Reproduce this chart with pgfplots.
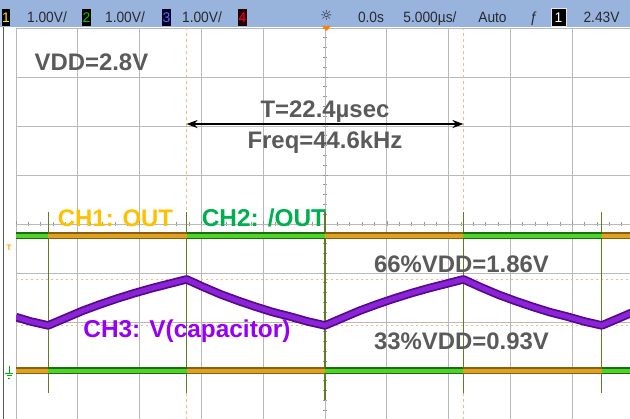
\documentclass[border=0pt]{standalone}
\usepackage{pgfplots}
\pgfplotsset{compat=1.18}
\usepackage{pgfplotstable}
\usepackage{fontspec}
\setmainfont{Liberation Sans}
\newfontfamily\dejavu{DejaVu Sans}
\usetikzlibrary{arrows.meta}
\definecolor{hdr}{RGB}{152,180,220}
\definecolor{hdrtxt}{RGB}{40,40,50}
\definecolor{txtgray}{RGB}{90,90,90}
\definecolor{ch1lab}{RGB}{255,192,0}
\definecolor{ch2lab}{RGB}{0,176,80}
\definecolor{ch3lab}{RGB}{150,0,245}
\definecolor{ordk}{RGB}{140,95,15}
\definecolor{orlt}{RGB}{222,162,35}
\definecolor{grdk}{RGB}{25,110,15}
\definecolor{grlt}{RGB}{80,210,40}
\definecolor{pudk}{RGB}{85,10,140}
\definecolor{pult}{RGB}{140,35,215}
\definecolor{edgec}{RGB}{95,125,35}
\definecolor{cursorc}{RGB}{242,185,130}
\definecolor{gridc}{RGB}{185,185,185}

% time in microseconds, vertical in divisions (1 V/div), screen centre = 0
\pgfplotstableread{
t v
-25 -2.99
-22.4 -2.99
-22.4 nan
-22.4 -0.24
-11.2 -0.24
-11.2 nan
-11.2 -2.99
0 -2.99
0 nan
0 -0.24
11.2 -0.24
11.2 nan
11.2 -2.99
22.4 -2.99
22.4 nan
22.4 -0.24
25 -0.24
}\chone
\pgfplotstableread{
t v
-25 -0.24
-22.4 -0.24
-22.4 nan
-22.4 -2.99
-11.2 -2.99
-11.2 nan
-11.2 -0.24
0 -0.24
0 nan
0 -2.99
11.2 -2.99
11.2 nan
11.2 -0.24
22.4 -0.24
22.4 nan
22.4 -2.99
25 -2.99
}\chtwo
\pgfplotstableread{
t v
-25 -1.90
-23.8 -1.99
-22.4 -2.07
-21.0 -1.92
-19.6 -1.77
-18.2 -1.64
-16.8 -1.52
-15.4 -1.41
-14.0 -1.31
-12.6 -1.22
-11.2 -1.13
-9.8 -1.29
-8.4 -1.44
-7.0 -1.57
-5.6 -1.69
-4.2 -1.80
-2.8 -1.89
-1.4 -1.99
0 -2.07
1.4 -1.92
2.8 -1.77
4.2 -1.64
5.6 -1.52
7.0 -1.41
8.4 -1.31
9.8 -1.22
11.2 -1.13
12.6 -1.29
14.0 -1.44
15.4 -1.57
16.8 -1.69
18.2 -1.80
19.6 -1.89
21.0 -1.99
22.4 -2.07
23.8 -1.92
25 -1.79
}\chthree
\pgfplotstableread{
t v
-22.4 0.25
-22.4 -3.45
-22.4 nan
-11.2 0.25
-11.2 -3.45
-11.2 nan
0 0.25
0 -3.6
0 nan
11.2 0.25
11.2 -3.45
11.2 nan
22.4 0.25
22.4 -3.45
}\edges

\begin{document}
\begin{tikzpicture}
\begin{axis}[
  at={(16bp,-1bp)}, anchor=south west,
  scale only axis, width=618bp, height=392bp,
  xmin=-25, xmax=25, ymin=-4, ymax=4,
  axis lines=middle,
  axis line style={-, draw=gridc, line width=0.8bp},
  xtick={-25,-20,...,25}, ytick={-4,-3,...,4},
  minor x tick num=4, minor y tick num=4,
  xticklabels={}, yticklabels={},
  tick align=center, major tick length=5bp, minor tick length=4bp,
  every tick/.style={draw=gridc!80!black, line width=0.6bp},
  grid=major, major grid style={draw=gridc, line width=0.9bp},
  unbounded coords=jump,
  clip=true,
]
% cursors
\addplot[draw=cursorc, line width=0.9bp, dash pattern=on 3bp off 3bp] coordinates {(-11.2,-4) (-11.2,4)};
\addplot[draw=cursorc, line width=0.9bp, dash pattern=on 3bp off 3bp] coordinates {(11.2,-4) (11.2,4)};
\addplot[draw=cursorc, line width=0.8bp, dash pattern=on 2bp off 3bp] coordinates {(-25,-1.13) (25,-1.13)};
\addplot[draw=cursorc, line width=0.8bp, dash pattern=on 2bp off 3bp] coordinates {(-25,-2.07) (25,-2.07)};
% switching edges
\addplot[draw=edgec, line width=1.2bp] table[x=t,y=v] {\edges};
% CH1 and CH2
\addplot[draw=ordk, line width=7bp] table[x=t,y=v] {\chone};
\addplot[draw=orlt, line width=4bp] table[x=t,y=v] {\chone};
\addplot[draw=grdk, line width=7bp] table[x=t,y=v] {\chtwo};
\addplot[draw=grlt, line width=4bp] table[x=t,y=v] {\chtwo};
% CH3
\addplot[draw=pudk, line width=8.5bp, line join=round] table[x=t,y=v] {\chthree};
\addplot[draw=pult, line width=5bp, line join=round] table[x=t,y=v] {\chthree};

% annotations
\draw[{Stealth[length=11bp,width=8bp]}-{Stealth[length=11bp,width=8bp]}, line width=2.3bp, black]
  (axis cs:-11.2,2.04) -- (axis cs:11.2,2.04);
\node[txtgray, font=\fontsize{24}{24}\selectfont\bfseries, anchor=center, inner sep=0] at (axis cs:-18.9,3.31) {VDD=2.8V};
\node[txtgray, font=\fontsize{24}{24}\selectfont\bfseries, anchor=base, inner sep=0] at (axis cs:0,2.18) {T=22.4µsec};
\node[txtgray, font=\fontsize{24}{24}\selectfont\bfseries, anchor=base, inner sep=0] at (axis cs:0,1.55) {Freq=44.6kHz};
\node[ch1lab, font=\fontsize{24}{24}\selectfont\bfseries, anchor=base, inner sep=0] at (axis cs:-16.95,-0.06) {CH1: OUT};
\node[ch2lab, font=\fontsize{24.5}{24}\selectfont\bfseries, anchor=base, inner sep=0] at (axis cs:-4.94,-0.06) {CH2: /OUT};
\node[ch3lab, font=\fontsize{24.5}{24}\selectfont\bfseries, anchor=base, inner sep=0] at (axis cs:-11.17,-2.31) {CH3: V(capacitor)};
\node[txtgray, font=\fontsize{24}{24}\selectfont\bfseries, anchor=base, inner sep=0] at (axis cs:11.04,-1.0) {66\%VDD=1.86V};
\node[txtgray, font=\fontsize{24}{24}\selectfont\bfseries, anchor=base, inner sep=0] at (axis cs:11.04,-2.57) {33\%VDD=0.93V};
\end{axis}

\begin{scope}[x=1bp, y=-1bp, yshift=419bp]
  % header bar
  \fill[hdr] (0,0) rectangle (630,27);
  \draw[gray!70!black, line width=1.5bp] (3.5,27) -- (3.5,419);
  % channel boxes
  \fill[black] (2,9) rectangle (10,26);
  \node[text=yellow!90!orange, font=\fontsize{14}{14}\selectfont, inner sep=0] at (6,17.5) {1};
  \fill[black] (82,9) rectangle (91,26);
  \node[text=green!80!black, font=\fontsize{14}{14}\selectfont, inner sep=0] at (86.5,17.5) {2};
  \fill[black!85!blue] (162,9) rectangle (171,26);
  \node[text=blue!60!white, font=\fontsize{14}{14}\selectfont, inner sep=0] at (166.5,17.5) {3};
  \fill[black!85!red] (238,9) rectangle (247,26);
  \node[text=red!80!magenta, font=\fontsize{14}{14}\selectfont, inner sep=0] at (242.5,17.5) {4};
  \fill[black, draw=white!80!gray, line width=0.6bp] (551,8) rectangle (566,26);
  \node[text=white, font=\fontsize{14}{14}\selectfont, inner sep=0] at (558.5,17.5) {1};
  % header texts
  \begin{scope}[every node/.style={text=hdrtxt, font=\fontsize{15}{15}\selectfont, inner sep=0, anchor=base, xscale=0.92}]
    \node at (47,22.5) {1.00V/};
    \node at (125,22.5) {1.00V/};
    \node at (202,22.5) {1.00V/};
    \node at (371,22.5) {0.0s};
    \node at (430,22.5) {5.000µs/};
    \node at (492.5,22.5) {Auto};
    \node at (534,22.5) {ƒ};
    \node at (601.5,22.5) {2.43V};
  \end{scope}
  \node[text=hdrtxt, font=\dejavu\fontsize{14}{14}\selectfont, inner sep=0] at (326.5,15) {☼};
  \fill[orange] (322,26) -- (331,26) -- (326.5,31) -- cycle;
  % trigger and ground markers
  \node[text=orange!80!yellow, font=\fontsize{8}{8}\selectfont\bfseries, inner sep=0] at (9,248) {T};
  \draw[green!70!black, line width=0.8bp] (9,366) -- (9,373) (5.5,373) -- (12.5,373) (6.5,375.5) -- (11.5,375.5) (8,378) -- (10,378);
\end{scope}
\pgfresetboundingbox
\useasboundingbox (0,0) rectangle (630bp,419bp);
\end{tikzpicture}
\end{document}
